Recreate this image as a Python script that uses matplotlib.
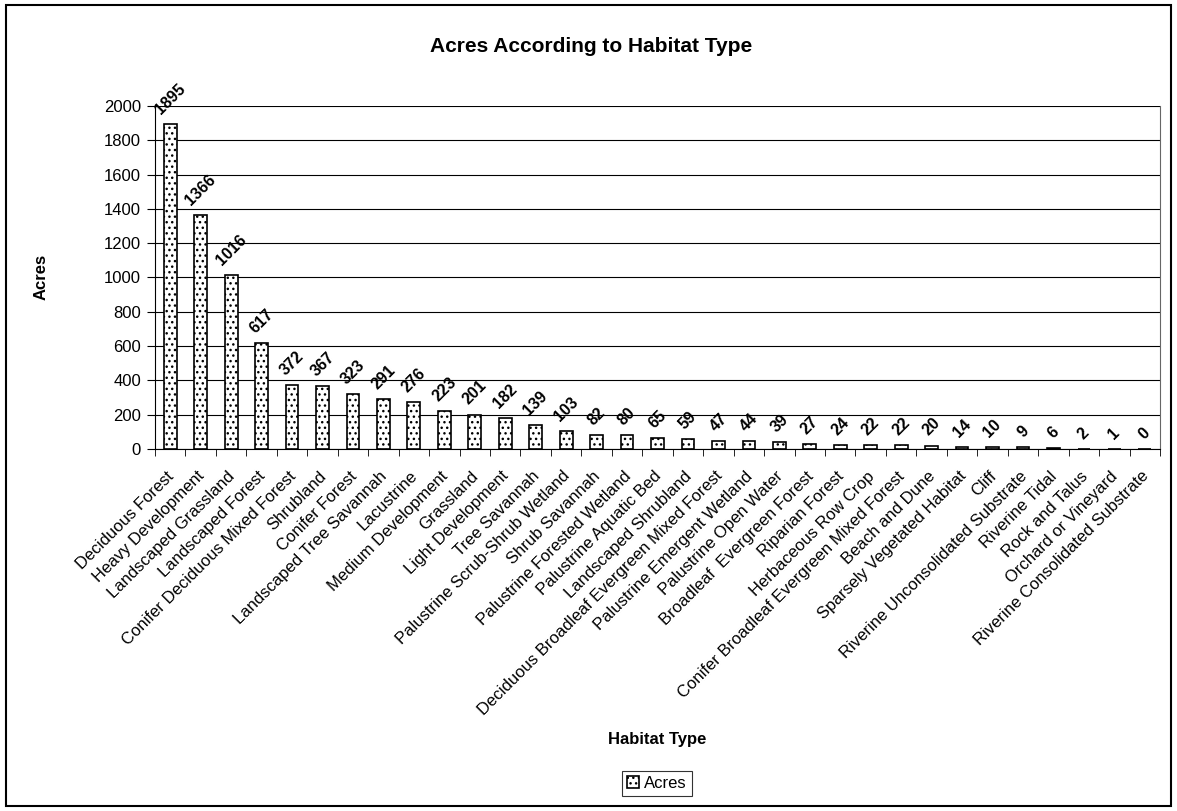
import numpy as np
import matplotlib.pyplot as plt
from matplotlib.patches import Rectangle
from matplotlib.transforms import ScaledTranslation

plt.rcParams['font.family'] = ['Liberation Sans', 'DejaVu Sans']
plt.rcParams['hatch.color'] = '#444444'
plt.rcParams['hatch.linewidth'] = 1.0

habitats = ['Deciduous Forest', 'Heavy Development', 'Landscaped Grassland',
            'Landscaped Forest', 'Conifer Deciduous Mixed Forest', 'Shrubland',
            'Conifer Forest', 'Landscaped Tree Savannah', 'Lacustrine',
            'Medium Development', 'Grassland', 'Light Development',
            'Tree Savannah', 'Palustrine Scrub-Shrub Wetland', 'Shrub Savannah',
            'Palustrine Forested Wetland', 'Palustrine Aquatic Bed',
            'Landscaped Shrubland', 'Deciduous Broadleaf Evergreen Mixed Forest',
            'Palustrine Emergent Wetland', 'Palustrine Open Water',
            'Broadleaf  Evergreen Forest', 'Riparian Forest',
            'Herbaceous Row Crop', 'Conifer Broadleaf Evergreen Mixed Forest',
            'Beach and Dune', 'Sparsely Vegetated Habitat', 'Cliff',
            'Riverine Unconsolidated Substrate', 'Riverine Tidal',
            'Rock and Talus', 'Orchard or Vineyard',
            'Riverine Consolidated Substrate']
acres = [1895, 1366, 1016, 617, 372, 367, 323, 291, 276, 223, 201, 182, 139,
         103, 82, 80, 65, 59, 47, 44, 39, 27, 24, 22, 22, 20, 14, 10, 9, 6,
         2, 1, 0]

fig = plt.figure(figsize=(11.77, 8.11), dpi=100)
ax = fig.add_axes([0.1317, 0.4464, 0.8539, 0.4229])

x = np.arange(len(habitats))
bars = ax.bar(x, acres, width=0.42, color='white', edgecolor='black',
              linewidth=1.2, hatch='...', label='Acres', zorder=3)

# value labels above each bar
for xi, v in zip(x, acres):
    ax.annotate(str(v), (xi, v), xytext=(0, 5), textcoords='offset points',
                rotation=45, ha='center', va='bottom', fontsize=11.5,
                fontweight='bold', zorder=4)

ax.set_xlim(-0.5, len(habitats) - 0.5)
ax.set_ylim(0, 2000)
ax.set_yticks(np.arange(0, 2001, 200))
ax.yaxis.grid(True, color='black', linewidth=0.8, zorder=0)
ax.tick_params(axis='y', labelsize=12, direction='out', length=6, pad=4)
ax.set_xticks(x)
ax.set_xticklabels(habitats, rotation=45, ha='right', va='top',
                   rotation_mode='anchor', fontsize=12)
ax.tick_params(axis='x', length=0, pad=14)
shift = ScaledTranslation(-4 / 100, 0, fig.dpi_scale_trans)
for lbl in ax.get_xticklabels():
    lbl.set_transform(lbl.get_transform() + shift)
ax.set_xticks(np.arange(-0.5, len(habitats), 1), minor=True)
ax.tick_params(axis='x', which='minor', length=5, direction='out')
ax.spines['top'].set_visible(False)
ax.spines['right'].set_color('#666666')

fig.text(0.035, 0.658, 'Acres', rotation=90, ha='center', va='center',
         fontsize=12, fontweight='bold')
fig.text(0.502, 0.943, 'Acres According to Habitat Type', ha='center',
         va='center', fontsize=15, fontweight='bold')
fig.text(0.558, 0.088, 'Habitat Type', ha='center', va='center',
         fontsize=12, fontweight='bold')

leg = fig.legend(handles=[bars], labels=['Acres'], loc='center',
                 bbox_to_anchor=(0.558, 0.0345), fontsize=12, frameon=True,
                 fancybox=False, edgecolor='black', handlelength=0.75,
                 handleheight=0.75, handletextpad=0.3, borderpad=0.3)
leg.get_frame().set_linewidth(0.8)

fig.patches.append(Rectangle((0.005, 0.006), 0.99, 0.988,
                             transform=fig.transFigure, fill=False,
                             edgecolor='black', linewidth=1.5))

fig.savefig('out.png', dpi=100)
